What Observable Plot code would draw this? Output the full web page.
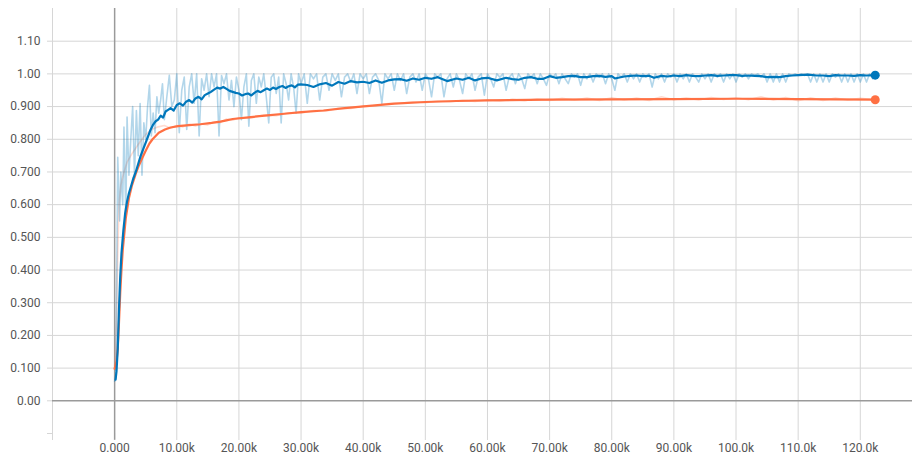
<!DOCTYPE html>
<html>
<head>
<meta charset="utf-8">
<script src="https://cdn.jsdelivr.net/npm/d3@7"></script>
<script src="https://cdn.jsdelivr.net/npm/@observablehq/plot@0.6"></script>
<style>
  html, body { margin: 0; padding: 0; background: #fff; }
  #chart svg { display: block; }
</style>
</head>
<body>
<div id="chart"></div>
<script>
// Training steps are in thousands; values are accuracy.

// Blue run: raw (light) and smoothed
const blueRaw = [
  [0.0, 0.06], [0.2, 0.07], [0.5, 0.745], [0.8, 0.55], [1.0, 0.70], [1.3, 0.60], [1.5, 0.837],
  [1.8, 0.56], [2.0, 0.868], [2.3, 0.69], [2.6, 0.80], [2.9, 0.90], [3.2, 0.69], [3.5, 0.888],
  [3.8, 0.75], [4.1, 0.909], [4.4, 0.69], [4.7, 0.85], [5.0, 0.80], [5.3, 0.90], [5.6, 0.965],
  [5.9, 0.81], [6.2, 0.88], [6.5, 0.82], [6.8, 0.93], [7.1, 0.88], [7.4, 0.92], [7.7, 0.97],
  [8.0, 0.86], [8.4, 0.93], [8.8, 0.996], [9.2, 0.90], [9.6, 0.92], [10.0, 1.0], [10.4, 0.82],
  [10.8, 0.95], [11.2, 0.99], [11.6, 0.83], [12.0, 0.96], [12.4, 1.0], [12.8, 0.91], [13.2, 1.0],
  [13.6, 0.81], [14.0, 0.985], [14.4, 0.95], [14.8, 1.0], [15.2, 0.93], [15.6, 1.0], [16.0, 0.96],
  [16.4, 1.0], [16.8, 0.81], [17.2, 0.995], [17.6, 0.97], [18.0, 1.0], [18.4, 0.92], [18.8, 0.98],
  [19.2, 0.90], [19.6, 0.99], [20.0, 0.95], [20.4, 0.86], [20.8, 0.96], [21.2, 1.0], [21.6, 0.84],
  [22.0, 0.98], [22.4, 1.0], [22.8, 0.91], [23.2, 0.99], [23.6, 0.96], [24.0, 1.0], [24.4, 0.93],
  [24.8, 0.85], [25.2, 0.99], [25.6, 1.0], [26.0, 0.94], [26.4, 0.99], [26.8, 0.85], [27.2, 1.0],
  [27.6, 0.97], [28.0, 0.92], [28.4, 1.0], [28.8, 0.96], [29.2, 0.88], [29.6, 1.0], [30.0, 0.97],
  [30.5, 1.0], [31, 0.91], [31.5, 1.0], [32, 0.985], [32.5, 1.0], [33, 0.92], [33.5, 0.99],
  [34, 1.0], [34.5, 0.95], [35, 1.0], [35.5, 0.98], [36, 1.0], [36.5, 0.93], [37, 0.99],
  [37.5, 1.0], [38, 0.975], [38.5, 1.0], [39, 0.94], [39.5, 1.0], [40, 0.985], [40.5, 1.0],
  [41, 0.94], [41.5, 0.99], [42, 1.0], [42.5, 0.98], [43, 0.91], [43.5, 1.0], [44, 0.985],
  [44.5, 1.0], [45, 0.95], [45.5, 1.0], [46, 0.98], [46.5, 1.0], [47, 0.94], [47.5, 0.99],
  [48, 1.0], [48.5, 0.975], [49, 1.0], [49.5, 0.95], [50, 1.0], [50.5, 0.985], [51, 0.93],
  [51.5, 1.0], [52, 0.99], [52.5, 1.0], [53, 0.93], [53.5, 0.985], [54, 1.0], [54.5, 0.96],
  [55, 1.0], [55.5, 0.98], [56, 0.94], [56.5, 1.0], [57, 0.985], [57.5, 1.0], [58, 0.95],
  [58.5, 0.99], [59, 1.0], [59.5, 0.935], [60, 1.0], [60.5, 0.985], [61, 0.96], [61.5, 1.0],
  [62, 0.99], [62.5, 1.0], [63, 0.95], [63.5, 0.99], [64, 1.0], [64.5, 0.97], [65, 1.0],
  [65.5, 0.985], [66, 0.955], [66.5, 1.0], [67, 0.99], [67.5, 1.0], [68, 0.97], [68.5, 1.0],
  [69, 0.985], [69.5, 0.965], [70, 1.0], [70.5, 0.99], [71, 1.0], [71.5, 0.97], [72, 1.0],
  [72.5, 0.985], [73, 0.97], [73.5, 1.0], [74, 0.99], [74.5, 1.0], [75, 0.965], [75.5, 1.0],
  [76, 0.985], [76.5, 1.0], [77, 0.975], [77.5, 1.0], [78, 0.99], [78.5, 1.0], [79, 0.97],
  [79.5, 1.0], [80, 0.985], [80.5, 0.95], [81, 1.0], [81.5, 0.99], [82, 1.0], [82.5, 0.975],
  [83, 1.0], [83.5, 0.985], [84, 1.0], [84.5, 0.975], [85, 1.0], [85.5, 0.99], [86, 1.0],
  [86.5, 0.96], [87, 1.0], [87.5, 0.985], [88, 1.0], [88.5, 0.975], [89, 1.0], [89.5, 0.99],
  [90, 1.0], [90.5, 0.975], [91, 1.0], [91.5, 0.985], [92, 1.0], [92.5, 0.975], [93, 1.0],
  [93.5, 0.99], [94, 0.975], [94.5, 1.0], [95, 0.985], [95.5, 1.0], [96, 0.975], [96.5, 1.0],
  [97, 0.99], [97.5, 1.0], [98, 0.975], [98.5, 1.0], [99, 0.985], [99.5, 1.0], [100, 0.975],
  [100.5, 1.0], [101, 0.99], [101.5, 1.0], [102, 0.985], [102.5, 1.0], [103, 0.995], [103.5, 1.0],
  [104, 0.99], [104.5, 1.0], [105, 0.975], [105.5, 1.0], [106, 0.975], [106.5, 1.0], [107, 0.975],
  [107.5, 1.0], [108, 0.975], [108.5, 1.0], [109, 0.995], [109.5, 1.0], [110, 0.995], [110.5, 1.0],
  [111, 0.995], [111.5, 1.0], [112, 0.975], [112.5, 1.0], [113, 0.975], [113.5, 1.0], [114, 0.975],
  [114.5, 1.0], [115, 0.975], [115.5, 1.0], [116, 0.99], [116.5, 1.0], [117, 0.975], [117.5, 1.0],
  [118, 0.975], [118.5, 1.0], [119, 0.975], [119.5, 1.0], [120, 0.975], [120.5, 1.0], [121, 0.975],
  [121.5, 1.0], [122, 0.985], [122.4, 0.996]
];

const blueSmooth = [
  [0.15, 0.065], [0.3, 0.09], [0.5, 0.16], [0.7, 0.28], [0.9, 0.38], [1.1, 0.45], [1.4, 0.52],
  [1.7, 0.575], [2.0, 0.61], [2.3, 0.635], [2.7, 0.66], [3.0, 0.68], [3.4, 0.70], [3.8, 0.725],
  [4.2, 0.75], [4.6, 0.77], [5.0, 0.79], [5.4, 0.81], [5.8, 0.83], [6.2, 0.845], [6.6, 0.855],
  [7.0, 0.86], [7.4, 0.872], [7.8, 0.866], [8.2, 0.885], [8.6, 0.89], [9.0, 0.895], [9.5, 0.888],
  [10.0, 0.905], [10.5, 0.91], [11.0, 0.903], [11.5, 0.915], [12.0, 0.92], [12.5, 0.912],
  [13.0, 0.925], [13.5, 0.93], [14.0, 0.922], [14.5, 0.935], [15.0, 0.94], [15.5, 0.945],
  [16.0, 0.952], [16.5, 0.958], [17.0, 0.955], [17.5, 0.96], [18.0, 0.954], [18.5, 0.948],
  [19.0, 0.945], [19.5, 0.942], [20.0, 0.94], [20.5, 0.934], [21.0, 0.938], [21.5, 0.94],
  [22.0, 0.934], [22.5, 0.942], [23.0, 0.948], [23.5, 0.944], [24.0, 0.95], [24.5, 0.955],
  [25.0, 0.951], [25.5, 0.958], [26.0, 0.954], [26.5, 0.96], [27.0, 0.963], [27.5, 0.957],
  [28.0, 0.962], [28.5, 0.965], [29.0, 0.959], [29.5, 0.967], [30.0, 0.968], [31, 0.966],
  [32, 0.96], [33, 0.968], [34, 0.972], [35, 0.964], [36, 0.975], [37, 0.97], [38, 0.978],
  [39, 0.974], [40, 0.976], [41, 0.972], [42, 0.98], [43, 0.973], [44, 0.98], [45, 0.983],
  [46, 0.984], [47, 0.979], [48, 0.986], [49, 0.982], [50, 0.988], [51, 0.985], [52, 0.99],
  [53.5, 0.978], [55, 0.986], [56, 0.982], [57, 0.988], [58, 0.98], [59, 0.986], [60, 0.988],
  [61.5, 0.98], [63, 0.988], [64, 0.984], [65, 0.982], [66, 0.988], [67, 0.99], [68, 0.985],
  [69, 0.985], [70, 0.993], [71, 0.988], [72, 0.99], [73, 0.993], [74, 0.994], [75, 0.99],
  [76, 0.99], [77, 0.993], [78, 0.994], [79, 0.991], [80, 0.993], [80.5, 0.986], [82, 0.992],
  [83, 0.994], [84, 0.995], [85, 0.993], [86, 0.994], [86.8, 0.988], [88, 0.994], [89, 0.992],
  [90, 0.995], [91, 0.993], [92, 0.996], [93, 0.994], [94, 0.993], [95, 0.995], [96, 0.996],
  [97, 0.994], [98, 0.995], [99, 0.996], [100, 0.996], [101, 0.994], [102, 0.995], [103, 0.994],
  [104, 0.993], [105, 0.99], [106, 0.991], [107, 0.99], [108, 0.993], [109, 0.995], [110, 0.996],
  [111.6, 0.998], [113, 0.995], [114, 0.995], [115, 0.993], [116, 0.996], [117, 0.995],
  [118, 0.995], [119, 0.994], [120, 0.996], [121, 0.995], [122.4, 0.996]
];

// Orange run: raw (faint) and smoothed
const orangeRaw = [
  [0.0, 0.10], [0.3, 0.25], [0.5, 0.45], [0.7, 0.60], [1.0, 0.66], [1.5, 0.70], [2.0, 0.73],
  [2.8, 0.756], [3.9, 0.787], [5.0, 0.815], [6.0, 0.83], [7.0, 0.838], [8.0, 0.842], [9, 0.834],
  [10, 0.842], [11, 0.838], [12, 0.846], [13, 0.841], [14, 0.847], [15, 0.844], [16, 0.852],
  [17, 0.851], [18, 0.862], [19, 0.858], [20, 0.866], [22, 0.865], [24, 0.874], [26, 0.872],
  [28, 0.881], [30, 0.880], [32, 0.888], [34, 0.886], [36, 0.895], [38, 0.894], [40, 0.902],
  [42, 0.903], [44, 0.909], [46, 0.91], [48, 0.915], [50, 0.912], [52, 0.917], [54, 0.915],
  [56, 0.919], [58, 0.916], [60, 0.921], [62, 0.917], [64, 0.922], [66, 0.918], [68, 0.924],
  [70, 0.919], [72, 0.925], [74, 0.92], [76, 0.926], [78, 0.919], [80, 0.927], [82, 0.92],
  [84, 0.926], [86, 0.919], [88, 0.93], [90, 0.921], [92, 0.926], [94, 0.92], [96, 0.928],
  [98, 0.922], [100, 0.927], [102, 0.921], [104, 0.93], [106, 0.92], [108, 0.928], [110, 0.918],
  [112, 0.927], [114, 0.919], [116, 0.926], [118, 0.92], [120, 0.925], [122.4, 0.921]
];

const orangeSmooth = [
  [0.0, 0.098], [0.3, 0.12], [0.5, 0.16], [0.7, 0.24], [0.9, 0.33], [1.1, 0.40], [1.3, 0.46],
  [1.6, 0.52], [1.8, 0.56], [2.3, 0.62], [2.8, 0.66], [3.4, 0.695], [3.9, 0.72], [4.5, 0.745],
  [5.0, 0.765], [5.6, 0.787], [6.1, 0.80], [7.1, 0.82], [8.1, 0.83], [9.0, 0.836], [10.2, 0.84],
  [12.0, 0.843], [13.8, 0.846], [15.6, 0.85], [17.0, 0.854], [18.0, 0.858], [19.0, 0.862],
  [21.9, 0.868], [24.6, 0.873], [27.3, 0.878], [30.0, 0.883], [33.6, 0.888], [37.0, 0.895],
  [41, 0.902], [45, 0.909], [50, 0.914], [55, 0.917], [60, 0.919], [70, 0.921], [80, 0.922],
  [90, 0.923], [100, 0.924], [110, 0.923], [122.4, 0.921]
];

// Axis ticks and their labels
const xTicks = [-10, 0, 10, 20, 30, 40, 50, 60, 70, 80, 90, 100, 110, 120];
const xTickLabels = ["", "0.000", "10.00k", "20.00k", "30.00k", "40.00k", "50.00k", "60.00k",
  "70.00k", "80.00k", "90.00k", "100.0k", "110.0k", "120.0k"];
const yTicks = [-0.1, 0, 0.1, 0.2, 0.3, 0.4, 0.5, 0.6, 0.7, 0.8, 0.9, 1.0, 1.1];
const yTickLabels = ["", "0.00", "0.100", "0.200", "0.300", "0.400", "0.500", "0.600", "0.700",
  "0.800", "0.900", "1.00", "1.10"];

const BLUE = "#0077bb";
const ORANGE = "#ff7043";

const rows = (pairs) => pairs.map(([step, value]) => ({step, value}));
const xLabel = new Map(xTicks.map((t, i) => [t, xTickLabels[i]]));
const yLabel = new Map(yTicks.map((t, i) => [t, yTickLabels[i]]));
const lastBlue = blueSmooth[blueSmooth.length - 1];
const lastOrange = orangeSmooth[orangeSmooth.length - 1];

const chart = Plot.plot({
  width: 912,
  height: 459,
  marginLeft: 52,
  marginRight: 0,
  marginTop: 8,
  marginBottom: 26,
  style: {fontFamily: "Roboto, 'Open Sans', sans-serif", fontSize: "12px", color: "#555", background: "#fff"},
  x: {type: "linear", domain: [-10, 128.4]},
  y: {type: "linear", domain: [-0.1, 1.2]},
  marks: [
    // horizontal grid (the -0.1 level only carries its tick)
    Plot.ruleY(yTicks.filter(t => t > -0.05 && t !== 0), {stroke: "#d6d6d6", strokeWidth: 1}),
    // vertical grid, running a little below the frame as ticks
    Plot.ruleX(xTicks.filter(t => t !== 0), {y1: 1.2, y2: -0.1, stroke: "#d6d6d6", strokeWidth: 1}),
    Plot.axisX({ticks: xTicks, tickSize: 7, tickPadding: 3, tickFormat: d => xLabel.get(d),
      stroke: "#d6d6d6", fill: "#555", label: null}),
    Plot.axisY({ticks: yTicks, tickSize: 5, tickPadding: 7, tickFormat: d => yLabel.get(d),
      stroke: "#d6d6d6", fill: "#555", label: null}),
    // zero lines
    Plot.ruleY([0], {stroke: "#9a9a9a", strokeWidth: 1.5}),
    Plot.ruleX([0], {y1: 1.2, y2: -0.121, stroke: "#9a9a9a", strokeWidth: 1.5}),
    // raw series
    Plot.line(rows(orangeRaw), {x: "step", y: "value", stroke: ORANGE, strokeOpacity: 0.25, strokeWidth: 1.6}),
    Plot.line(rows(blueRaw), {x: "step", y: "value", stroke: BLUE, strokeOpacity: 0.3, strokeWidth: 1.6}),
    // smoothed series
    Plot.line(rows(orangeSmooth), {x: "step", y: "value", stroke: ORANGE, strokeWidth: 2.2}),
    Plot.line(rows(blueSmooth), {x: "step", y: "value", stroke: BLUE, strokeWidth: 2.2}),
    // last-value markers
    Plot.dot(rows([lastBlue]), {x: "step", y: "value", r: 4.5, fill: BLUE}),
    Plot.dot(rows([lastOrange]), {x: "step", y: "value", r: 4.5, fill: ORANGE})
  ]
});

document.getElementById("chart").appendChild(chart);
</script>
</body>
</html>
